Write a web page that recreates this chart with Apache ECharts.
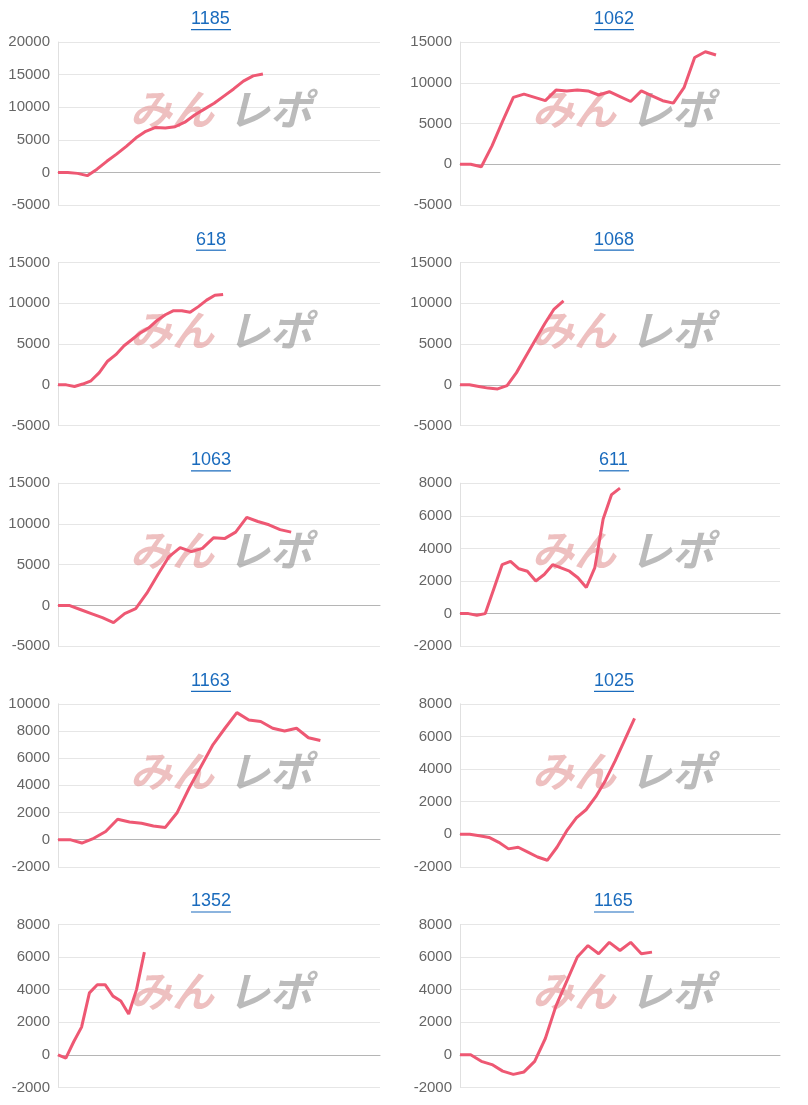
<!DOCTYPE html>
<html><head><meta charset="utf-8">
<script src="https://cdn.jsdelivr.net/npm/echarts@6/dist/echarts.min.js"></script>
<style>html,body{margin:0;padding:0;background:#fff}#c{width:808px;height:1105px}</style>
</head><body><div id="c"></div>
<script>
const titles = ['1185','1062','618','1068','1063','611','1163','1025','1352','1165'];
const s1185 = [0,0,-150,-500,500,1700,2800,4000,5300,6300,6900,6800,7000,7700,8800,9700,10600,11700,12800,14000,14800,15100];
const s1062 = [0,0,-300,2250,5300,8200,8600,8200,7800,9100,9000,9100,9000,8500,8900,8300,7700,9000,8400,7800,7500,9400,13100,13800,13400];
const s618 = [0,0,-200,100,500,1500,2900,3700,4800,5600,6400,7000,7900,8600,9100,9100,8900,9600,10400,11000,11100];
const s1068 = [0,0,-200,-400,-500,-100,1500,3500,5500,7500,9300,10300];
const s1063 = [0,0,-500,-1000,-1500,-2100,-1000,-400,1500,3800,6000,7100,6600,7000,8300,8200,9000,10800,10300,9900,9300,9000];
const s611 = [0,0,-100,0,1500,3000,3200,2750,2600,2000,2400,3000,2800,2600,2200,1600,2800,5800,7300,7700];
const s1163 = [0,0,-250,100,600,1500,1300,1200,1000,900,2000,3800,5400,7000,8200,9350,8800,8700,8200,8000,8200,7500,7300];
const s1025 = [0,0,-100,-200,-500,-900,-800,-1100,-1400,-1600,-800,200,1000,1500,2300,3300,4500,5800,7100];
const s1352 = [0,-200,800,1700,3800,4300,4300,3600,3300,2500,4000,6300];
const s1165 = [0,0,-400,-600,-1000,-1200,-1050,-400,1000,3000,4500,6000,6700,6200,6900,6400,6900,6200,6300];
const seriesData = [s1185,s1062,s618,s1068,s1063,s611,s1163,s1025,s1352,s1165];
const slots = [34,31,40,35,30,39,28,34,42,31];
const yMin = [-5000,-5000,-5000,-5000,-5000,-2000,-2000,-2000,-2000,-2000];
const yMax = [20000,15000,15000,15000,15000,8000,10000,8000,8000,8000];
const yStep = [5000,5000,5000,5000,5000,2000,2000,2000,2000,2000];

const chart = echarts.init(document.getElementById('c'));
const grids=[],xAxes=[],yAxes=[],series=[],graphics=[];
for(let i=0;i<10;i++){
  const col=i%2,row=Math.floor(i/2);
  const left = col? 460:58, width = col?320:322;
  const top = 42+row*220.6, height=163;
  grids.push({left,top,width,height});
  const cats=[];for(let k=0;k<slots[i];k++)cats.push(String(k));
  xAxes.push({type:'category',gridIndex:i,data:cats,boundaryGap:false,
    axisLine:{show:true,onZero:true,lineStyle:{color:'#b5b5b5',width:1}},
    axisTick:{show:false},axisLabel:{show:false},splitLine:{show:false}});
  yAxes.push({type:'value',gridIndex:i,min:yMin[i],max:yMax[i],interval:yStep[i],
    axisLine:{show:true,lineStyle:{color:'#e0e0e0'}},axisTick:{show:false},
    axisLabel:{color:'#666',fontSize:15,fontFamily:'Liberation Sans, Arial',margin:8,formatter:v=>String(v)},
    splitLine:{lineStyle:{color:'#e6e6e6'}}});
  series.push({type:'line',xAxisIndex:i,yAxisIndex:i,data:seriesData[i],showSymbol:false,
    smooth:false,lineStyle:{color:'#ee5873',width:3},z:5});
  const cx = col? 614:211;
  const w = titles[i].length*10;
  graphics.push({type:'text',left:cx-w/2,top:top-32,style:{text:titles[i],fill:'#1a6bbd',fontSize:18,fontFamily:'Liberation Sans, Arial'},z:10});
  graphics.push({type:'rect',shape:{x:cx-w/2,y:top-13,width:w,height:1.2},style:{fill:'#1a6bbd'},z:10});
  graphics.push({type:'text',left:left+72,top:top+46,z:1,style:{text:'みん',fill:'rgba(226,150,150,0.6)',fontSize:42,fontWeight:'bold',fontStyle:'italic',fontFamily:'Noto Sans CJK JP'}});
  graphics.push({type:'text',left:left+170,top:top+46,z:1,style:{text:'レポ',fill:'rgba(150,150,150,0.65)',fontSize:42,fontWeight:'bold',fontStyle:'italic',fontFamily:'Noto Sans CJK JP'}});
}
chart.setOption({animation:false,grid:grids,xAxis:xAxes,yAxis:yAxes,series,graphic:graphics});
</script></body></html>
